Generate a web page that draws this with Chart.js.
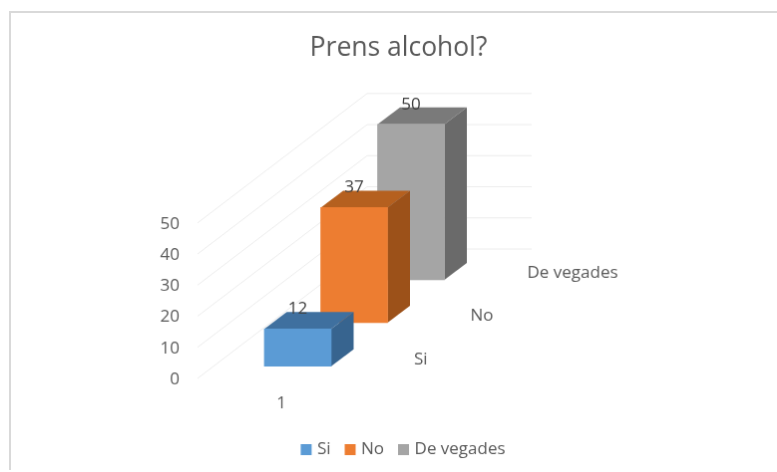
<!DOCTYPE html>
<html><head><meta charset="utf-8">
<style>
html,body{margin:0;padding:0;background:#fff;width:777px;height:472px;overflow:hidden}
#c{position:absolute;left:9px;top:11px;border-top:2px solid #d9d9d9;border-left:2px solid #d9d9d9}
</style>
<script src="https://cdn.jsdelivr.net/npm/chart.js@4"></script>
</head><body><canvas id="c" width="777" height="459"></canvas>
<script>
const titleText = "Prens alcohol?";
const categories = ["1"];
const seriesNames = ["Si", "No", "De vegades"];
const siValues = [12];
const noValues = [37];
const deVegadesValues = [50];
const frontColors = ["#5B9BD5", "#ED7D31", "#A5A5A5"];
const topColors = ["#3F709F", "#B5601F", "#7A7A7A"];
const sideColors = ["#37648F", "#9C5119", "#6A6A6A"];
const depthShift = [[16.5,-12.3],[73,-56],[130,-99]];
const FONT = "'Open Sans', sans-serif";
const wall = {dx:170, dy:-130, right:533-11};
const box = {dx:22.5, dy:-17};

const plugin3d = {
  id:'plugin3d',
  afterLayout(chart){
    const lg=chart.legend;
    lg.left+=6; lg.right+=6; lg.top-=2; lg.bottom-=2;
  },
  beforeDatasetsDraw(chart){
    const {ctx, scales:{y}, chartArea:a} = chart;
    ctx.save();
    ctx.strokeStyle='#ececec'; ctx.lineWidth=1;
    y.ticks.forEach(t=>{
      const p = y.getPixelForValue(t.value);
      ctx.beginPath();
      ctx.moveTo(a.left,p);
      ctx.lineTo(a.left+wall.dx,p+wall.dy);
      ctx.lineTo(wall.right,p+wall.dy);
      ctx.stroke();
    });
    ctx.restore();
  },
  beforeDatasetDraw(chart,args){
    const {ctx}=chart, i=args.index, [sx,sy]=depthShift[i];
    const b=chart.getDatasetMeta(i).data[0];
    ctx.save();
    ctx.translate(sx,sy);
    const l=b.x-b.width/2, r=b.x+b.width/2, t=b.y, bt=b.base;
    ctx.fillStyle=topColors[i];
    ctx.beginPath();ctx.moveTo(l,t);ctx.lineTo(l+box.dx,t+box.dy);ctx.lineTo(r+box.dx,t+box.dy);ctx.lineTo(r,t);ctx.closePath();ctx.fill();
    ctx.fillStyle=sideColors[i];
    ctx.beginPath();ctx.moveTo(r,t);ctx.lineTo(r+box.dx,t+box.dy);ctx.lineTo(r+box.dx,bt+box.dy);ctx.lineTo(r,bt);ctx.closePath();ctx.fill();
  },
  afterDatasetDraw(chart){ chart.ctx.restore(); },
  afterDatasetsDraw(chart){
    const {ctx}=chart;
    ctx.save();
    ctx.font="17px "+FONT; ctx.textBaseline='middle';
    chart.data.datasets.forEach((d,i)=>{
      const [sx,sy]=depthShift[i], b=chart.getDatasetMeta(i).data[0];
      ctx.fillStyle='#404040'; ctx.textAlign='center';
      ctx.fillText(String(d.data[0]), b.x+sx, b.y+sy-20);
      ctx.fillStyle='#595959'; ctx.textAlign='left';
      ctx.fillText(d.label, b.x+sx+b.width/2+83, b.base+sy-7);
    });
    ctx.restore();
  }
};

const mk=(i,vals)=>({label:seriesNames[i],data:vals,backgroundColor:frontColors[i],borderWidth:0,barThickness:67,grouped:false,clip:false,yAxisID:'y'});

new Chart(document.getElementById('c'),{
  type:'bar',
  data:{labels:categories,datasets:[mk(0,siValues),mk(1,noValues),mk(2,deVegadesValues)]},
  plugins:[plugin3d],
  options:{
    responsive:false,animation:false,
    layout:{padding:{bottom:0}},
    plugins:{
      title:{display:true,text:titleText,color:'#595959',font:{family:FONT,size:26.5,weight:'normal'},padding:{top:20,bottom:159}},
      legend:{position:'bottom',labels:{usePointStyle:true,pointStyle:'rect',boxWidth:5,boxHeight:11,color:'#595959',font:{family:FONT,size:17},padding:17}},
      tooltip:{enabled:false}
    },
    scales:{
      x:{grid:{display:false,drawTicks:false},border:{display:false},ticks:{color:'#595959',font:{family:FONT,size:17},padding:15},afterFit(s){s.height=48;}},
      y:{min:0,max:50,grid:{display:false,drawTicks:false},border:{display:false},ticks:{stepSize:10,color:'#595959',font:{family:FONT,size:17},padding:18,labelOffset:1},afterFit(s){s.width=187;}},
      yPad:{position:'right',min:0,max:50,grid:{display:false,drawTicks:false},border:{display:false},ticks:{display:false},afterFit(s){s.width=422;}}
    }
  }
});
</script></body></html>
